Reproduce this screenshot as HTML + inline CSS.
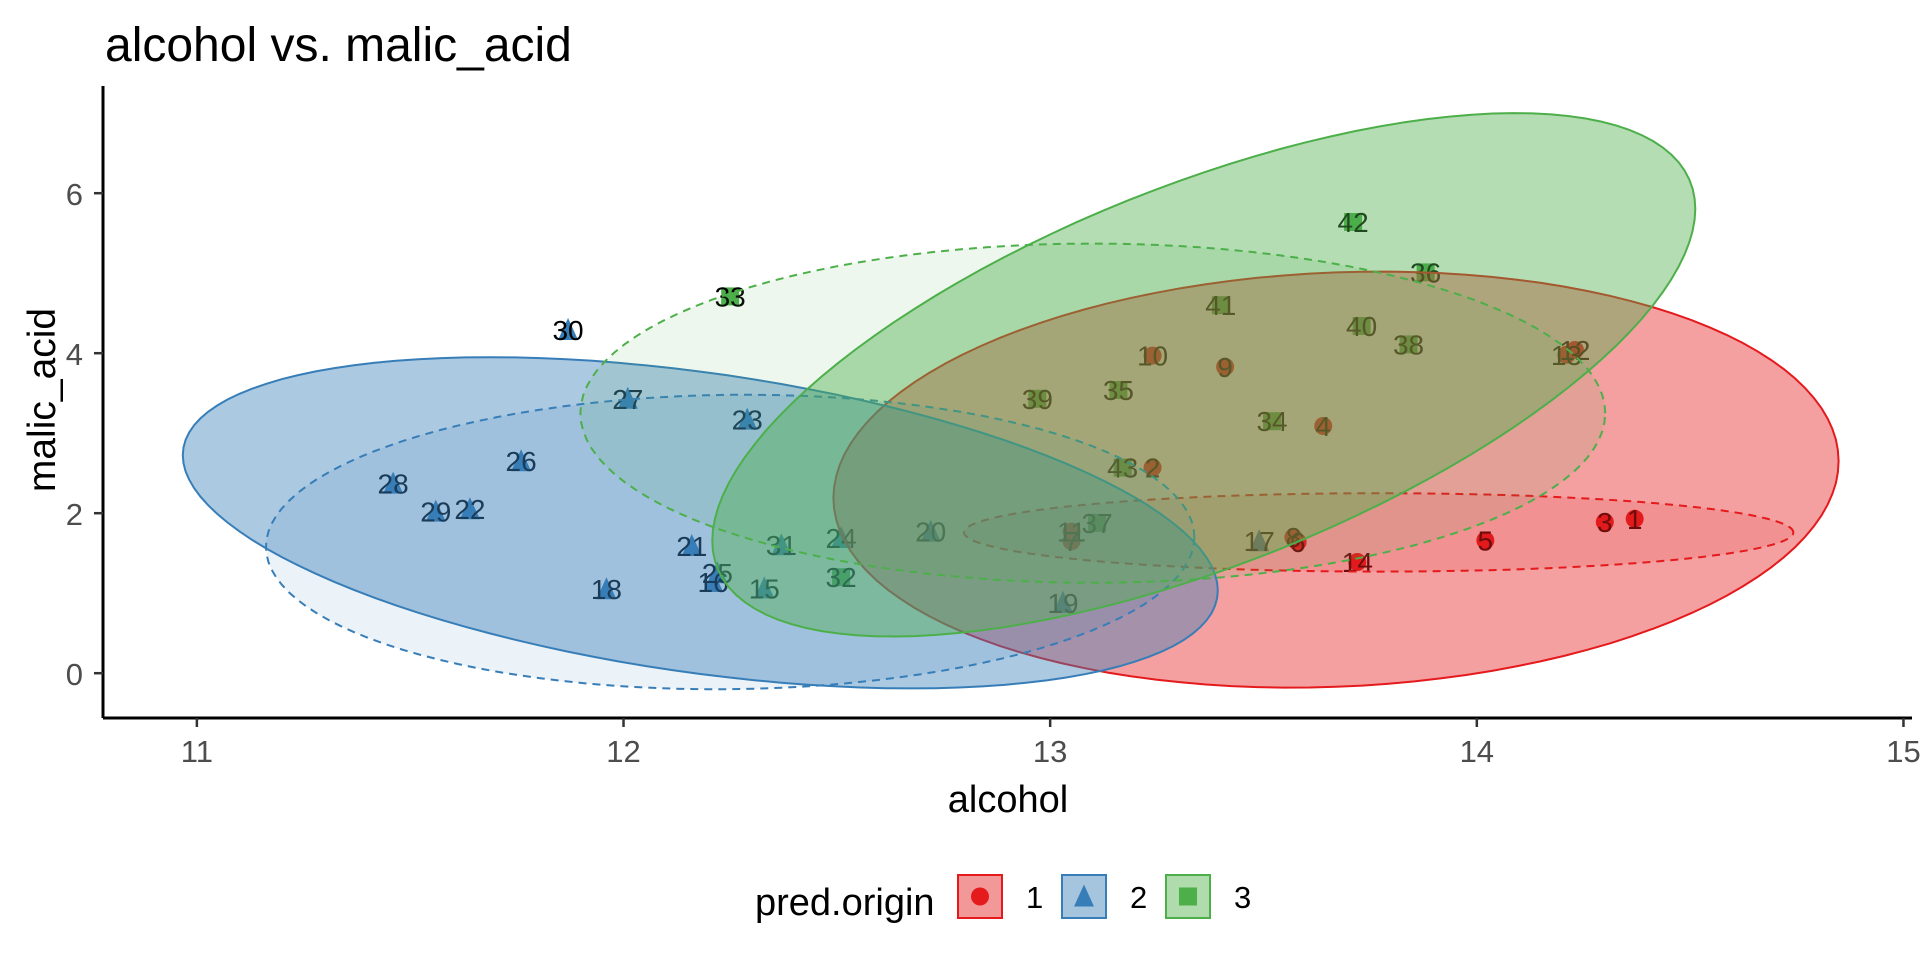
<!DOCTYPE html>
<html><head><meta charset="utf-8"><style>
html,body{margin:0;padding:0;background:#fff;}
svg{display:block;font-family:"Liberation Sans",Arial,sans-serif;}
</style></head><body>
<svg id="chart" width="1920" height="960" viewBox="0 0 1920 960">
<text x="105" y="61" font-size="48" fill="#000">alcohol vs. malic_acid</text>
<g id="plot"></g>
<text x="1008" y="812" font-size="38" text-anchor="middle" fill="#000">alcohol</text>
<text transform="translate(55,400) rotate(-90)" font-size="39" text-anchor="middle" fill="#000">malic_acid</text>
<g id="legend">
<text x="755" y="915" font-size="38" fill="#000">pred.origin</text>
</g>
</svg>
<script>
const xVals=[14.37,13.24,14.30,13.64,14.02,13.58,13.05,13.57,13.41,13.24,13.05,14.23,14.21,13.72,
12.33,12.21,13.49,11.96,13.03,12.72,12.16,11.64,12.29,12.51,12.22,11.76,12.01,11.46,11.56,11.87,12.37,
12.51,12.25,13.52,13.16,13.88,13.11,13.84,12.97,13.73,13.40,13.71,13.17];
const yVals=[1.93,2.57,1.89,3.09,1.66,1.64,1.65,1.70,3.83,3.97,1.77,4.04,3.98,1.39,
1.06,1.14,1.65,1.05,0.88,1.77,1.59,2.05,3.17,1.69,1.25,2.65,3.43,2.37,2.02,4.29,1.60,
1.20,4.71,3.15,3.54,5.01,1.88,4.11,3.43,4.34,4.60,5.64,2.57];
const groups=[1,1,1,1,1,1,1,1,1,1,1,1,1,1,
2,2,2,2,2,2,2,2,2,2,2,2,2,2,2,2,2,
3,3,3,3,3,3,3,3,3,3,3,3];
const pointLabels=["1","2","3","4","5","6","7","8","9","10","11","12","13","14",
"15","16","17","18","19","20","21","22","23","24","25","26","27","28","29","30","31",
"32","33","34","35","36","37","38","39","40","41","42","43"];
const xTicks=[11,12,13,14,15];
const yTicks=[0,2,4,6];
const ellGroup=[1,1,2,2,3,3];
const ellDashed=[false,true,false,true,false,true];
const ellCx=[13.67,13.77,12.18,12.25,13.36,13.10];
const ellCy=[2.42,1.76,1.88,1.64,3.73,3.25];
const ellUx=[1.178,0.972,1.213,1.088,1.152,1.201];
const ellUy=[0.23,0,-0.845,0.06,2.074,0];
const ellVy=[2.59,0.49,1.89,1.84,2.53,2.12];
const legendKeys=["1","2","3"];

const colors={1:"#E41A1C",2:"#377EB8",3:"#4DAF4A"};
const NS="http://www.w3.org/2000/svg";
const X0=103,X1=1912,Y0=86,Y1=718;
const xMin=10.78,xMax=15.02,yMin=-0.56,yMax=7.34;
function sx(v){return X0+(v-xMin)/(xMax-xMin)*(X1-X0);}
function sy(v){return Y1-(v-yMin)/(yMax-yMin)*(Y1-Y0);}
function mk(tag,attrs,parent){const e=document.createElementNS(NS,tag);for(const k in attrs)e.setAttribute(k,attrs[k]);parent.appendChild(e);return e;}
const plot=document.getElementById('plot');

function marker(g,cx,cy,grp,parent,s){
  let e;
  if(grp===1){e=mk('circle',{cx:cx,cy:cy,r:9*s,fill:colors[1]},parent);}
  else if(grp===2){const h=10*s;e=mk('polygon',{points:`${cx},${cy-h*1.2} ${cx+h},${cy+h} ${cx-h},${cy+h}`,fill:colors[2]},parent);}
  else{const h=9*s;e=mk('rect',{x:cx-h,y:cy-h,width:2*h,height:2*h,fill:colors[3]},parent);}
  return e;
}
const ptG=mk('g',{},plot);


for(let i=0;i<xVals.length;i++){
  const p=marker(null,sx(xVals[i]),sy(yVals[i]),groups[i],ptG,1);
  
  
}
const lbG=mk('g',{},plot);


for(let i=0;i<xVals.length;i++){
  const t=mk('text',{x:sx(xVals[i]),y:sy(yVals[i])+10,'font-size':28,'text-anchor':'middle',fill:'#000'},lbG);
  t.textContent=pointLabels[i];
  
  
}
for(let k=0;k<ellCx.length;k++){
  let d='';
  for(let j=0;j<=120;j++){
    const t=j/120*2*Math.PI;
    const xv=ellCx[k]+ellUx[k]*Math.cos(t);
    const yv=ellCy[k]+ellUy[k]*Math.cos(t)+ellVy[k]*Math.sin(t);
    d+=(j?'L':'M')+sx(xv).toFixed(1)+','+sy(yv).toFixed(1);
  }
  const c=colors[ellGroup[k]];
  const e=mk('path',{d:d+'Z',fill:c,'fill-opacity':ellDashed[k]?0.1:0.42,stroke:c,'stroke-width':2,'stroke-dasharray':ellDashed[k]?'8,6':'none'},plot);
  
  
}
const ax=mk('g',{},plot);


const xl=mk('line',{x1:X0,y1:Y1,x2:X1,y2:Y1,stroke:'#000','stroke-width':3},ax);


const yl=mk('line',{x1:X0,y1:Y0,x2:X0,y2:Y1,stroke:'#000','stroke-width':3},ax);


xTicks.forEach(v=>{
  const tk=mk('line',{x1:sx(v),y1:Y1,x2:sx(v),y2:Y1+9,stroke:'#333','stroke-width':2.5},ax);
  
  
  const t=mk('text',{x:sx(v),y:Y1+44,'font-size':31,'text-anchor':'middle',fill:'#4d4d4d'},ax);
  t.textContent=v;
  
  
});
yTicks.forEach(v=>{
  const tk=mk('line',{x1:X0-9,y1:sy(v),x2:X0,y2:sy(v),stroke:'#333','stroke-width':2.5},ax);
  
  
  const t=mk('text',{x:83,y:sy(v)+12,'font-size':31,'text-anchor':'end',fill:'#4d4d4d'},ax);
  t.textContent=v;
  
  
});
const lg=document.getElementById('legend');
legendKeys.forEach((k,i)=>{
  const g=+k;const bx=958+i*104;
  const r=mk('rect',{x:bx,y:875,width:44,height:43,fill:colors[g],'fill-opacity':0.45,stroke:colors[g],'stroke-width':2},lg);
  
  
  marker(null,bx+22,896.5,g,lg,1);
  const t=mk('text',{x:bx+68,y:908,'font-size':31,fill:'#000'},lg);
  t.textContent=k;
  
  
});
</script>
</body></html>
